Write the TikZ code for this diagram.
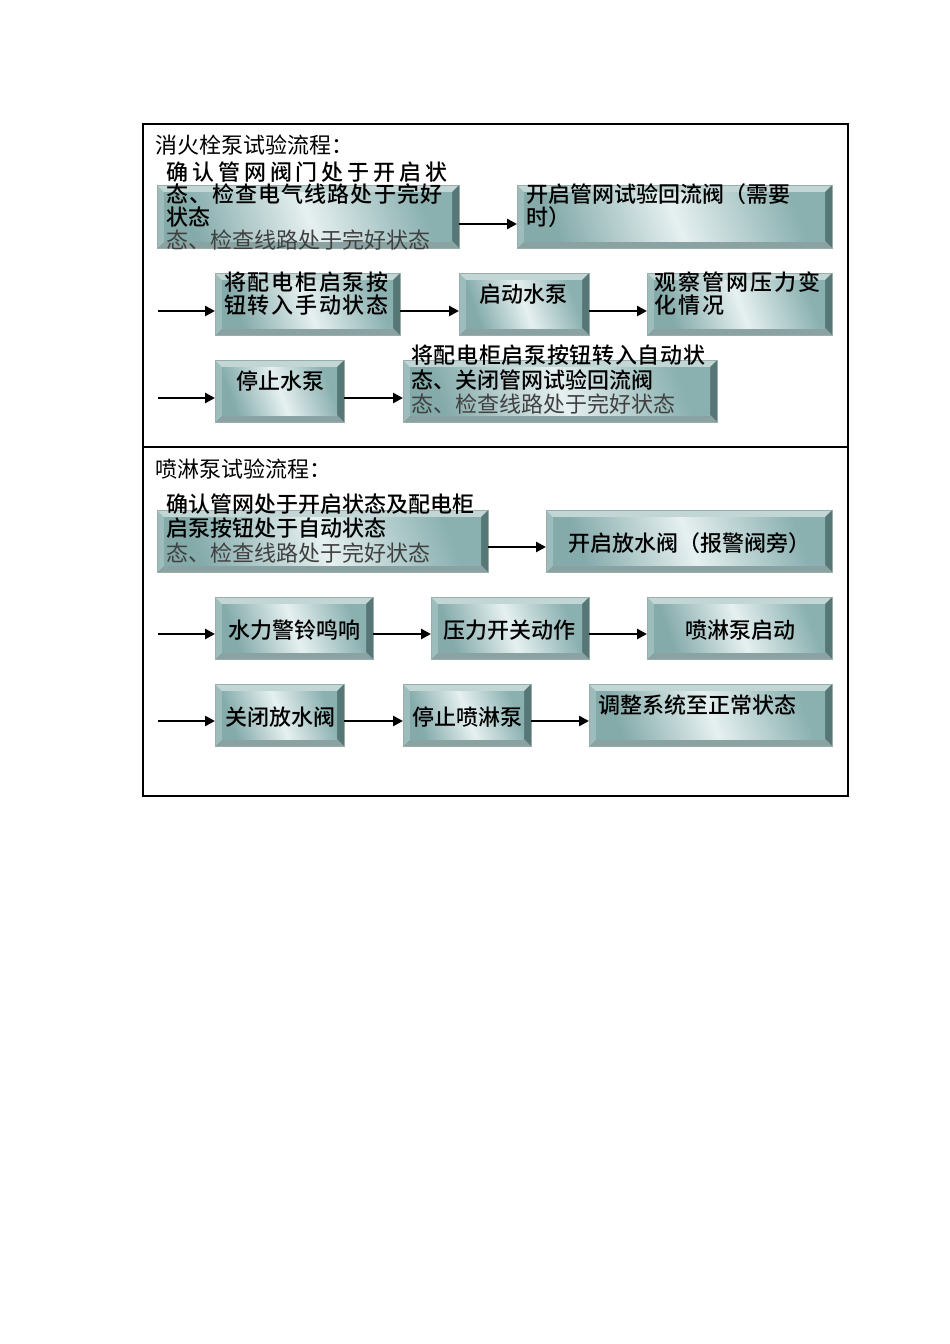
\documentclass[tikz,border=0pt]{standalone}
\usepackage{fontspec}
\usetikzlibrary{arrows.meta,fit}
\newfontfamily\cjk{Noto Sans CJK SC}
\newfontfamily\cjkm{Noto Sans CJK SC Medium}
\definecolor{bevT}{HTML}{C2D6D6}
\definecolor{bevL}{HTML}{9DBDBD}
\definecolor{bevR}{HTML}{577777}
\definecolor{bevB}{HTML}{8AA2A2}
\definecolor{tealA}{HTML}{84AAAA}
\definecolor{tealB}{HTML}{8AB0B0}
\definecolor{tealM}{HTML}{E6F0F0}
\definecolor{graytxt}{HTML}{404040}
\tikzset{
  boxnode/.style={inner sep=0pt, outer sep=0pt},
  arr/.style={line width=2.8pt, -{Triangle[length=10pt,width=10pt]}},
  frame/.style={line width=1.8pt},
  btxt/.style={inner sep=0pt, font=\cjkm\fontsize{22}{23}\selectfont},
  rtxt/.style={inner sep=0pt, font=\cjk\fontsize{22}{23}\selectfont},
  gtxt/.style={inner sep=0pt, text=graytxt, font=\cjk\fontsize{22}{23}\selectfont},
}
\newcommand\bw{7}
\newcommand\bevbox[5]{%
  \coordinate (#1-nw) at (#2,#3);
  \coordinate (#1-se) at (#4,#5);
  \node[boxnode, fit=(#1-nw)(#1-se)] (#1) {};
  \fill[bevT] (#1.north west) -- (#1.north east) -- ([shift={(-\bw,\bw)}]#1.north east) -- ([shift={(\bw,\bw)}]#1.north west) -- cycle;
  \fill[bevB] (#1.south west) -- (#1.south east) -- ([shift={(-\bw,-\bw)}]#1.south east) -- ([shift={(\bw,-\bw)}]#1.south west) -- cycle;
  \fill[bevL] (#1.north west) -- ([shift={(\bw,\bw)}]#1.north west) -- ([shift={(\bw,-\bw)}]#1.south west) -- (#1.south west) -- cycle;
  \fill[bevR] (#1.north east) -- ([shift={(-\bw,\bw)}]#1.north east) -- ([shift={(-\bw,-\bw)}]#1.south east) -- (#1.south east) -- cycle;
  \shade[left color=tealA, right color=tealB, middle color=tealM, shading angle=110] ([shift={(\bw,\bw)}]#1.north west) rectangle ([shift={(-\bw,-\bw)}]#1.south east);
  \draw[line width=0.4pt, bevR!60] (#1.north west) rectangle (#1.south east);
}
\newcommand\ls[1]{\addfontfeature{LetterSpace=#1}}
\begin{document}
\begin{tikzpicture}[x=1pt,y=-1pt]
\useasboundingbox (0,0) rectangle (950,1344);
\fill[white] (0,0) rectangle (950,1344);
% frame
\draw[frame] (143,124) rectangle (848,796);
\draw[frame] (143,447) -- (848,447);

% ---------- section 1 ----------
\node[rtxt, anchor=base west] (title1) at (155,153) {消火栓泵试验流程：};

\bevbox{b1}{157}{185}{459}{248}
\bevbox{b2}{517}{185}{832}{248}
\bevbox{b3}{215}{273}{400}{335}
\bevbox{b4}{459}{273}{589}{335}
\bevbox{b5}{647}{273}{832}{335}
\bevbox{b6}{215}{360}{344}{422}
\bevbox{b7}{403}{360}{717}{422}

\node[btxt, anchor=base west] (t1a) at (166,180) {\ls{18}确认管网阀门处于开启状};
\node[btxt, anchor=base west] (t1b) at (166,202) {\ls{5}态、检查电气线路处于完好};
\node[btxt, anchor=base west] (t1c) at (166,225) {状态};
\node[gtxt, anchor=base west] (t1d) at (166,248) {态、检查线路处于完好状态};

\node[btxt, anchor=base west] (t2a) at (526,202) {开启管网试验回流阀（需要};
\node[btxt, anchor=base west] (t2b) at (526,225) {时）};

\node[btxt, anchor=base west] (t3a) at (224,290) {\ls{8}将配电柜启泵按};
\node[btxt, anchor=base west] (t3b) at (224,313) {\ls{8}钮转入手动状态};
\node[btxt, anchor=base] (t4) at (523,302) {启动水泵};
\node[btxt, anchor=base west] (t5a) at (654,290) {\ls{9}观察管网压力变};
\node[btxt, anchor=base west] (t5b) at (654,313) {\ls{9}化情况};
\node[btxt, anchor=base] (t6) at (280,389) {停止水泵};
\node[btxt, anchor=base west] (t7a) at (411,363) {\ls{3}将配电柜启泵按钮转入自动状};
\node[btxt, anchor=base west] (t7b) at (411,388) {态、关闭管网试验回流阀};
\node[gtxt, anchor=base west] (t7c) at (411,412) {态、检查线路处于完好状态};

\coordinate (s2) at (158,311);
\coordinate (s3) at (158,398);
\draw[arr] (b1.east |- 0,224) -- (b2.west |- 0,224);
\draw[arr] (s2) -- (b3.west |- s2);
\draw[arr] (b3.east |- s2) -- (b4.west |- s2);
\draw[arr] (b4.east |- s2) -- (b5.west |- s2);
\draw[arr] (s3) -- (b6.west |- s3);
\draw[arr] (b6.east |- s3) -- (b7.west |- s3);

% ---------- section 2 ----------
\node[rtxt, anchor=base west] (title2) at (155,477) {喷淋泵试验流程：};

\bevbox{c1}{157}{510}{488}{572}
\bevbox{c2}{546}{510}{832}{572}
\bevbox{c3}{215}{597}{373}{659}
\bevbox{c4}{431}{597}{589}{659}
\bevbox{c5}{647}{597}{832}{659}
\bevbox{c6}{215}{684}{344}{746}
\bevbox{c7}{403}{684}{531}{746}
\bevbox{c8}{589}{684}{832}{746}

\node[btxt, anchor=base west] (u1a) at (166,512) {确认管网处于开启状态及配电柜};
\node[btxt, anchor=base west] (u1b) at (166,536) {启泵按钮处于自动状态};
\node[gtxt, anchor=base west] (u1c) at (166,561) {态、检查线路处于完好状态};
\node[btxt, anchor=base] (u2) at (689,551) {开启放水阀（报警阀旁）};
\node[btxt, anchor=base] (u3) at (294,638) {水力警铃鸣响};
\node[btxt, anchor=base] (u4) at (509,638) {压力开关动作};
\node[btxt, anchor=base] (u5) at (740,638) {喷淋泵启动};
\node[btxt, anchor=base] (u6) at (280,725) {关闭放水阀};
\node[btxt, anchor=base] (u7) at (467,725) {停止喷淋泵};
\node[btxt, anchor=base west] (u8) at (598,713) {调整系统至正常状态};

\coordinate (s5) at (158,634);
\coordinate (s6) at (158,721);
\draw[arr] (c1.east |- 0,547) -- (c2.west |- 0,547);
\draw[arr] (s5) -- (c3.west |- s5);
\draw[arr] (c3.east |- s5) -- (c4.west |- s5);
\draw[arr] (c4.east |- s5) -- (c5.west |- s5);
\draw[arr] (s6) -- (c6.west |- s6);
\draw[arr] (c6.east |- s6) -- (c7.west |- s6);
\draw[arr] (c7.east |- s6) -- (c8.west |- s6);
\end{tikzpicture}
\end{document}
